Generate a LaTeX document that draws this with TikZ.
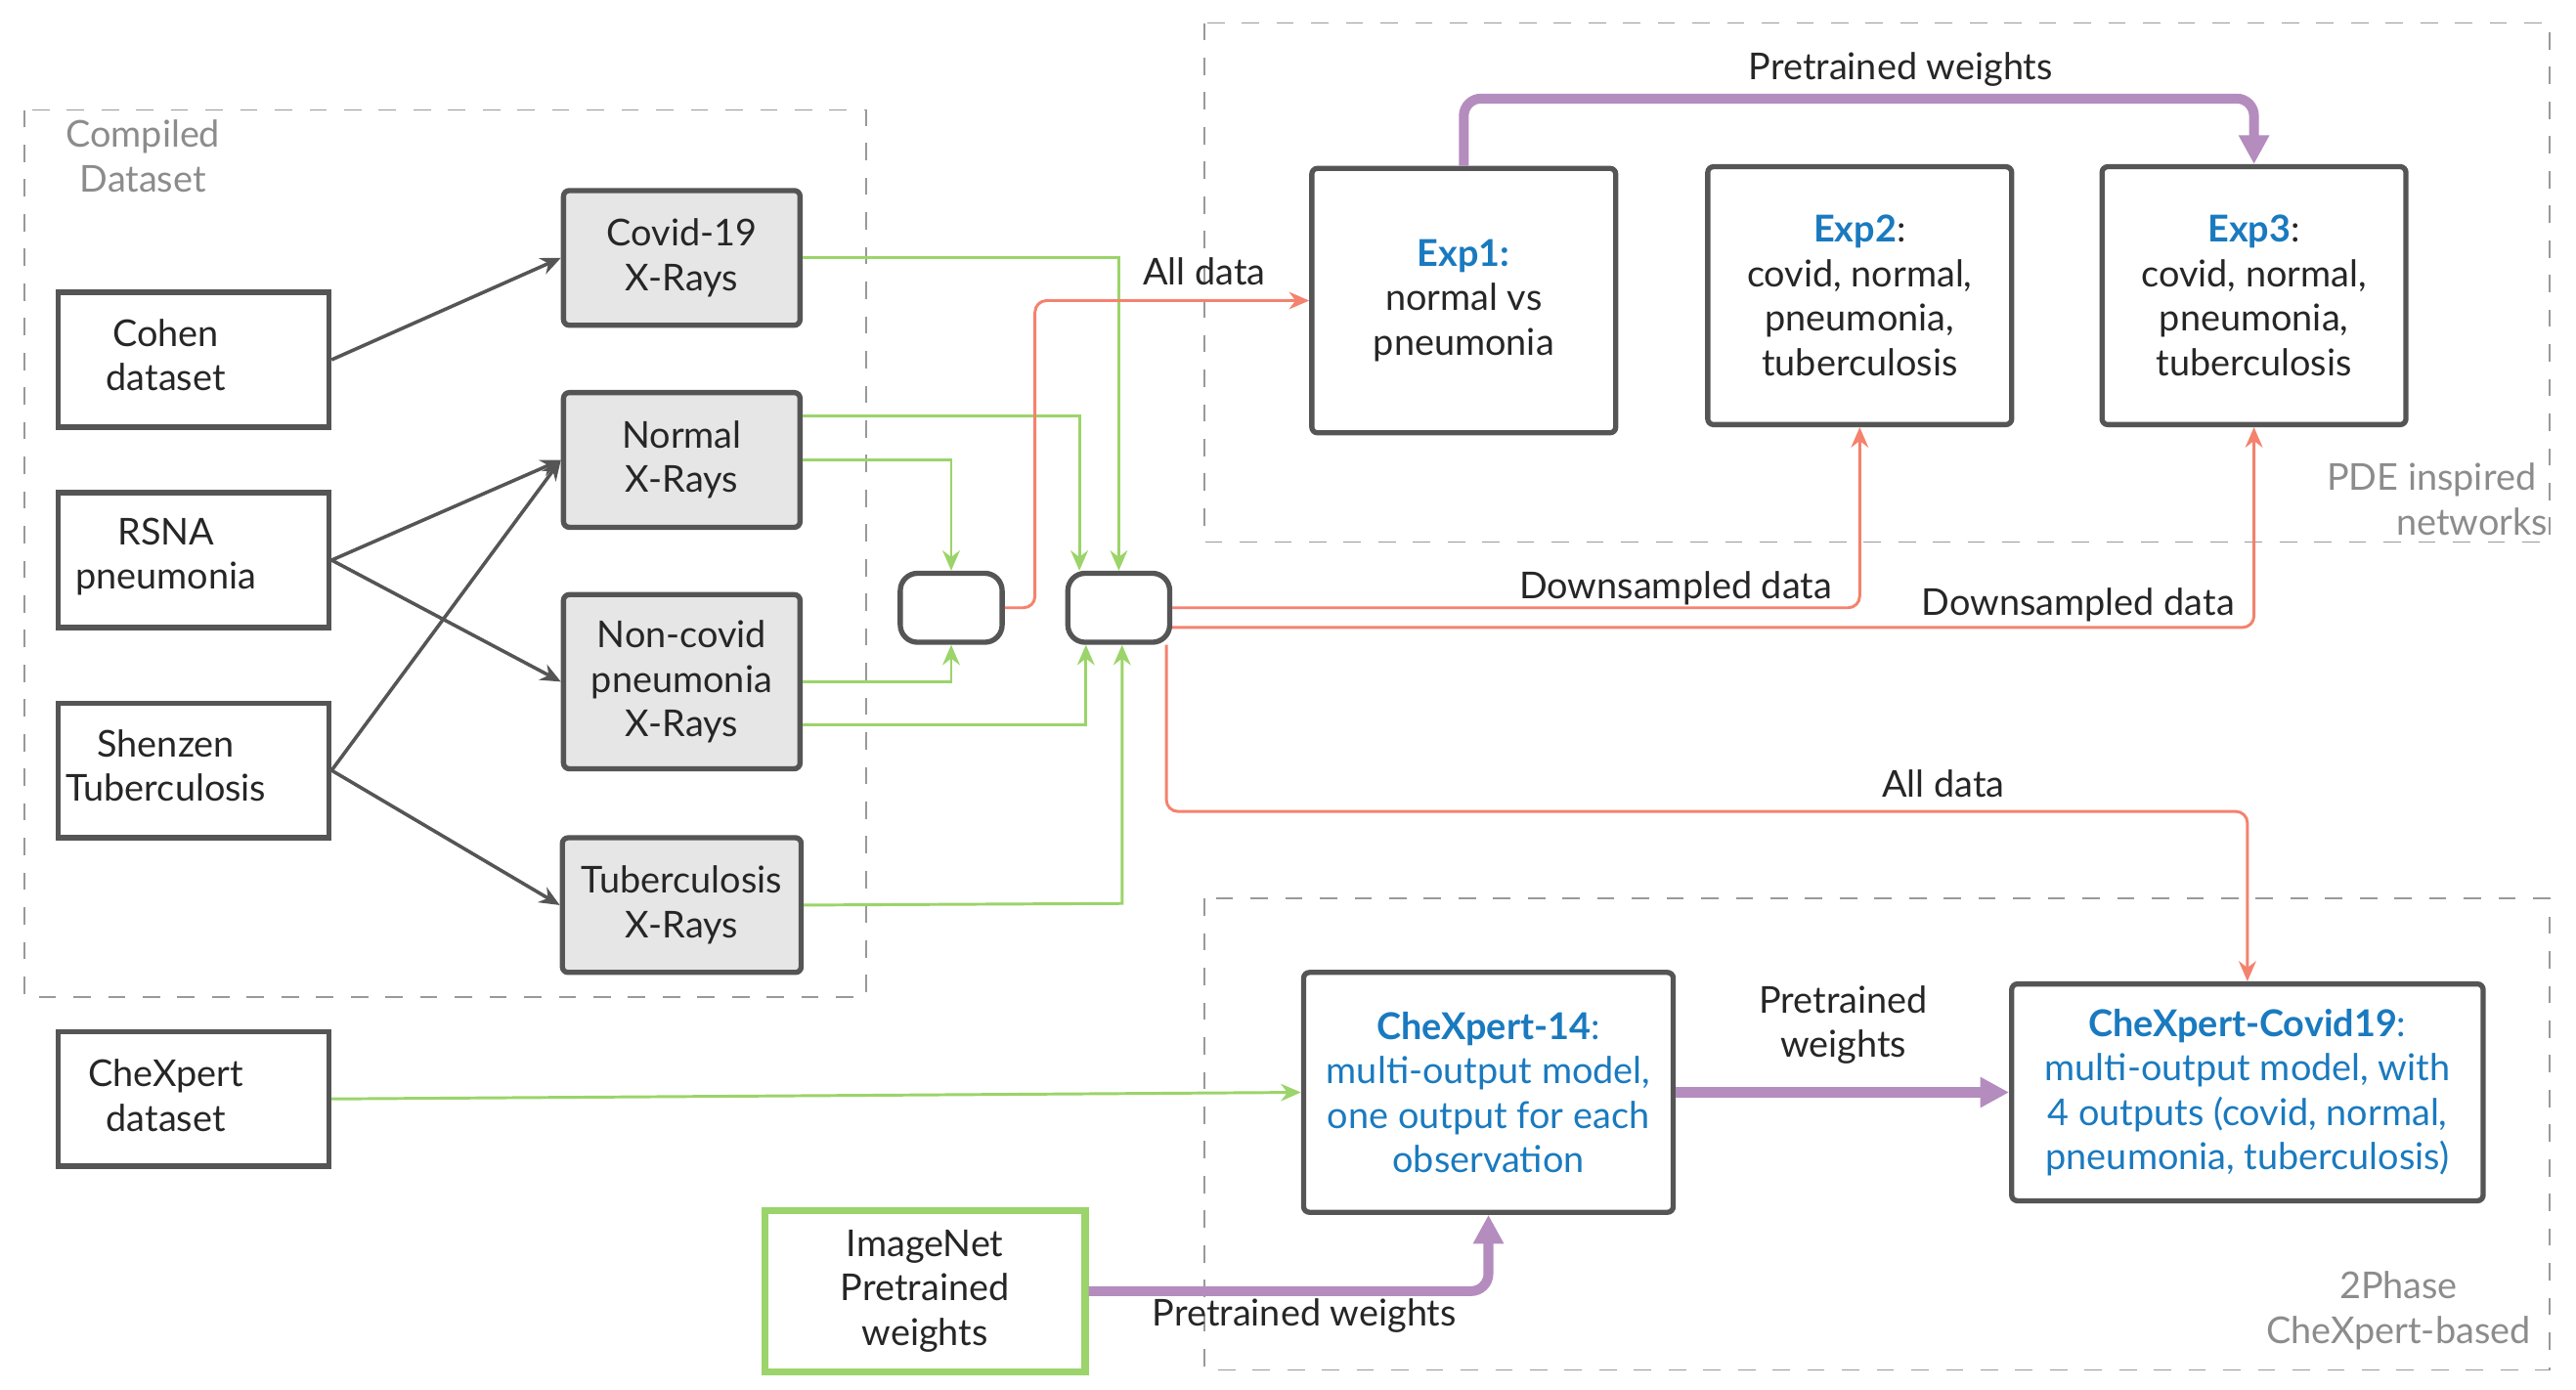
\documentclass[tikz,border=0pt]{standalone}
\usepackage{fontspec}
\setmainfont{Lato}
\usetikzlibrary{shapes.geometric,arrows.meta}
\definecolor{blu}{HTML}{1A7ABF}
\definecolor{sal}{HTML}{F4826E}
\definecolor{grn}{HTML}{9BD46A}
\definecolor{pur}{HTML}{B48CBE}
\definecolor{dg}{HTML}{555555}
\definecolor{fillg}{HTML}{E6E6E6}
\begin{document}
\begin{tikzpicture}[x=0.01cm,y=-0.01cm,
  every node/.style={font=\fontsize{6.4pt}{7.7pt}\selectfont, align=center, text=black!85},
  grp/.style={draw=black!40, dashed, line width=0.3pt},
  glab/.style={text=black!45},
  cyl/.style={cylinder, draw=dg, line width=0.9pt, minimum width=82*0.01cm, minimum height=165*0.01cm, aspect=0.35, inner sep=0pt},
  gbox/.style={draw=dg, fill=fillg, line width=0.9pt, rounded corners=1pt},
  wbox/.style={draw=dg, line width=0.9pt, rounded corners=1pt},
  da/.style={draw=dg, line width=0.6pt, -{Stealth[length=3.5pt,width=3pt]}},
  ga/.style={draw=grn, line width=0.5pt, -{Stealth[length=3.5pt,width=3pt]}},
  sa/.style={draw=sal, line width=0.5pt, rounded corners=2pt, -{Stealth[length=3.5pt,width=3pt]}},
  pa/.style={draw=pur, line width=1.7pt, rounded corners=3pt, -{Triangle[length=5pt,width=5pt]}},
  b/.style={text=blu, font=\fontsize{6.4pt}{7.7pt}\selectfont\bfseries}
]
\useasboundingbox (0,0) rectangle (1568,846);
% groups
\draw[grp] (15,67) rectangle (527,607);
\node[glab] at (87,95) {Compiled\\Dataset};
\draw[grp] (733,14) rectangle (1552,330);
\node[glab] at (1480,304) {PDE inspired\\\phantom{PDE }networks};
\draw[grp] (733,547) rectangle (1552,834);
\node[glab] at (1460,798) {2Phase\\CheXpert-based};
% cylinders
\node[cyl] (cohen) at (117,219) {};
\node at (101,216) {Cohen\\dataset};
\node[cyl] (rsna) at (117,341) {};
\node at (101,339) {RSNA\\pneumonia};
\node[cyl] (shen) at (117,469) {};
\node at (101,466) {Shenzen\\Tuberculosis};
\node[cyl] (chex) at (117,669) {};
\node at (101,667) {CheXpert\\dataset};
% gray boxes
\node[gbox, minimum width=144*0.01cm, minimum height=82*0.01cm] (covid) at (415,157) {Covid-19\\X-Rays};
\node[gbox, minimum width=144*0.01cm, minimum height=82*0.01cm] (normal) at (415,280) {Normal\\X-Rays};
\node[gbox, minimum width=144*0.01cm, minimum height=106*0.01cm] (noncov) at (415,415) {Non-covid\\pneumonia\\X-Rays};
\node[gbox, minimum width=144*0.01cm, minimum height=82*0.01cm] (tb) at (415,551) {Tuberculosis\\X-Rays};
% junctions
\node[wbox, rounded corners=3pt, minimum width=62*0.01cm, minimum height=42*0.01cm] (j1) at (579,370) {};
\node[wbox, rounded corners=3pt, minimum width=62*0.01cm, minimum height=42*0.01cm] (j2) at (681,370) {};
% experiments
\node[wbox, minimum width=185*0.01cm, minimum height=161*0.01cm] (e1) at (891,183) {\textcolor{blu}{\bfseries Exp1:}\\normal vs\\pneumonia};
\node[wbox, minimum width=185*0.01cm, minimum height=157*0.01cm] (e2) at (1132,180) {\textcolor{blu}{\bfseries Exp2}:\\covid, normal,\\pneumonia,\\tuberculosis};
\node[wbox, minimum width=185*0.01cm, minimum height=157*0.01cm] (e3) at (1372,180) {\textcolor{blu}{\bfseries Exp3}:\\covid, normal,\\pneumonia,\\tuberculosis};
\node[wbox, minimum width=225*0.01cm, minimum height=146*0.01cm, text=blu] (c14) at (906,665) {{\bfseries CheXpert-14}:\\multi-output model,\\one output for each\\observation};
\node[wbox, minimum width=287*0.01cm, minimum height=132*0.01cm, text=blu] (c19) at (1368,665) {{\bfseries CheXpert-Covid19}:\\multi-output model, with\\4 outputs (covid, normal,\\pneumonia, tuberculosis)};
\node[draw=grn, line width=1.2pt, minimum width=195*0.01cm, minimum height=94*0.01cm] (imn) at (563,786) {ImageNet\\Pretrained\\weights};
% dark arrows
\draw[da] (cohen.east) -- (covid.west);
\draw[da] (rsna.east) -- (normal.west);
\draw[da] (rsna.east) -- (noncov.west);
\draw[da] (shen.east) -- (normal.west);
\draw[da] (shen.east) -- (tb.west);
% green arrows
\draw[ga] (covid.east) -- (681,157) -- (j2.north);
\draw[ga] (normal.east |- 0,253) -- (657,253) -- (j2.north -| 657,0);
\draw[ga] (normal.east) -- (579,280) -- (j1.north);
\draw[ga] (noncov.east) -- (579,415) -- (j1.south);
\draw[ga] (noncov.east |- 0,441) -- (661,441) -- (j2.south -| 661,0);
\draw[ga] (tb.east) -- (683,550) -- (j2.south -| 683,0);
\draw[ga] (chex.east) -- (c14.west);
% salmon
\draw[sa] (j1.east) -- (630,370) -- (630,183) -- (e1.west);
\node at (733,165) {All data};
\draw[sa] (j2.east) -- (1132,370) -- (e2.south);
\node at (1020,358) {Downsampled data};
\draw[sa] (j2.east |- 0,382) -- (1372,382) -- (e3.south);
\node at (1265,368) {Downsampled data};
\draw[sa] (j2.south -| 710,0) -- (710,494) -- (1368,494) -- (c19.north);
\node at (1183,477) {All data};
% purple
\draw[pa] (e1.north) -- (891,60) -- (1372,60) -- (e3.north);
\node at (1157,42) {Pretrained weights};
\draw[pa] (c14.east) -- (c19.west);
\node at (1122,624) {Pretrained\\weights};
\draw[pa] (imn.east) -- (906,786) -- (c14.south);
\node at (794,801) {Pretrained weights};
\end{tikzpicture}
\end{document}
